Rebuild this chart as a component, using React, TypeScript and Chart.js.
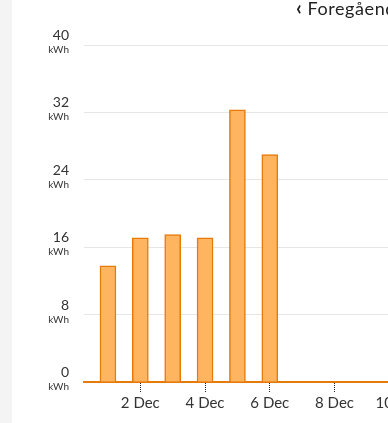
import React, { useEffect, useRef } from "react";
import { Chart, registerables } from "chart.js";

Chart.register(...registerables);

const days = [1, 2, 3, 4, 5, 6];
const energyKWh = [13.8, 17.1, 17.5, 17.1, 32.3, 27.0];
const yTicks = [0, 8, 16, 24, 32, 40];
const xTicks = [2, 4, 6, 8, 10];
const monthLabel = "Dec";
const unit = "kWh";
const navLabel = "Foregående";

const FONT = "Lato, 'Open Sans', sans-serif";
const CW = 460;

export default function App() {
  const ref = useRef<HTMLCanvasElement>(null);

  useEffect(() => {
    document.body.style.margin = "0";
    const canvas = ref.current;
    if (!canvas) return;

    const yLabels = {
      id: "yLabels",
      afterDraw(chart: any) {
        const ctx = chart.ctx;
        const y = chart.scales.y;
        ctx.save();
        ctx.textAlign = "right";
        ctx.textBaseline = "alphabetic";
        ctx.fillStyle = "#333333";
        yTicks.forEach((v) => {
          const py = y.getPixelForValue(v);
          ctx.font = `14px ${FONT}`;
          ctx.fillText(String(v), 69, py - 5);
          ctx.font = `10px ${FONT}`;
          ctx.fillText(unit, 69, py + 8);
        });
        ctx.restore();
      },
    };

    const chart = new Chart(canvas, {
      type: "bar",
      data: {
        datasets: [
          {
            data: days.map((d, i) => ({ x: d, y: energyKWh[i] })),
            backgroundColor: "#ffb55f",
            borderColor: "#e67a0a",
            borderWidth: 1.5,
            borderSkipped: "bottom",
            barThickness: 16,
          },
        ],
      },
      options: {
        animation: false,
        responsive: true,
        maintainAspectRatio: false,
        layout: { padding: { top: 45, left: 0, right: 0, bottom: 0 } },
        plugins: { legend: { display: false }, tooltip: { enabled: false } },
        scales: {
          x: {
            type: "linear",
            offset: false,
            bounds: "data",
            min: 0.26,
            max: 0.26 + (CW - 84) / 32.37,
            afterBuildTicks: (s: any) => {
              s.ticks = xTicks.map((v) => ({ value: v }));
            },
            afterFit: (s: any) => {
              s.height = 41;
            },
            grid: {
              offset: false,
              drawOnChartArea: false,
              drawTicks: true,
              tickLength: 11,
              tickColor: "#222222",
              tickWidth: 1,
              tickBorderDash: [1, 1],
            },
            border: { display: true, color: "#e67a0a", width: 2 },
            ticks: {
              autoSkip: false,
              maxRotation: 0,
              padding: 1,
              color: "#333333",
              font: { family: FONT, size: 15 },
              callback: (v: any) => `${v} ${monthLabel}`,
            },
          },
          y: {
            min: 0,
            max: 40,
            afterBuildTicks: (s: any) => {
              s.ticks = yTicks.map((v) => ({ value: v }));
            },
            afterFit: (s: any) => {
              s.width = 84;
            },
            grid: { color: "#e6e6e6", lineWidth: 1, drawTicks: false },
            border: { display: false },
            ticks: { display: false },
          },
        },
      },
      plugins: [yLabels],
    });
    return () => chart.destroy();
  }, []);

  return (
    <div
      style={{
        position: "fixed",
        left: 0,
        top: 0,
        width: 388,
        height: 423,
        overflow: "hidden",
        background: "#ffffff",
      }}
    >
      <div
        style={{
          position: "absolute",
          left: 0,
          top: 0,
          width: 12,
          height: 423,
          background: "#f4f4f4",
        }}
      />
      <div style={{ position: "absolute", left: 0, top: 0, width: CW, height: 423 }}>
        <canvas ref={ref} />
      </div>
      <div
        style={{
          position: "absolute",
          left: 296,
          top: -4,
          whiteSpace: "nowrap",
          fontFamily: FONT,
          fontSize: 18,
          letterSpacing: "0.6px",
          lineHeight: "22px",
          color: "#222222",
        }}
      >
        <span style={{ fontWeight: 700, fontSize: 20, marginRight: 5 }}>‹</span>
        {navLabel}
      </div>
    </div>
  );
}
